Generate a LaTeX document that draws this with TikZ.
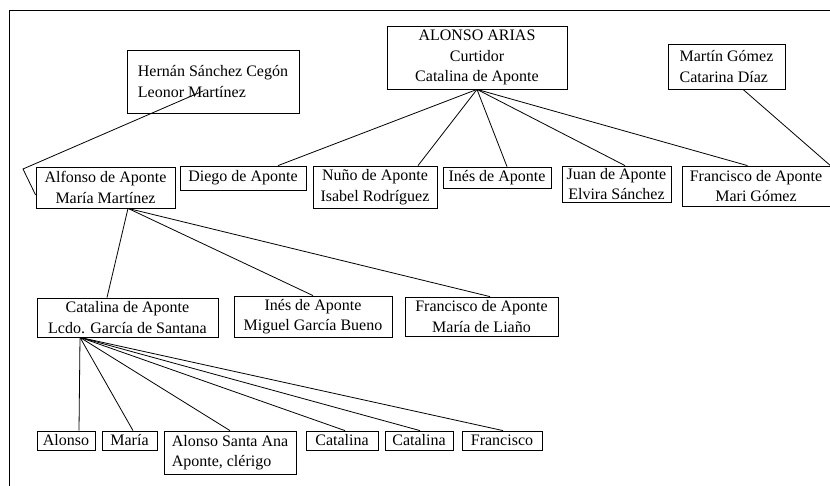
\documentclass[tikz,border=0pt]{standalone}
\usepackage{fontspec}
\setmainfont{Liberation Serif}
\begin{document}
\begin{tikzpicture}[x=1pt,y=1pt,
  box/.style={draw, line width=0.8pt, inner sep=0pt, align=center,
    font=\fontsize{16}{20.5}\selectfont},
  link/.style={line width=0.8pt}]
\useasboundingbox (0,0) rectangle (830,-486);
\clip (0,0) rectangle (830,-486);
\draw[link] (9,-10) rectangle (860,-520);
% top generation
\node[box, align=left, minimum width=172pt, minimum height=63pt] (hernan) at (213,-81.5) {Hernán Sánchez Cegón\\Leonor Martínez};
\node[box, minimum width=180pt, minimum height=63pt] (alonso) at (477,-57.5) {ALONSO ARIAS\\Curtidor\\Catalina de Aponte};
\node[box, align=left, minimum width=117pt, minimum height=45pt] (martin) at (726.5,-66.5) {Martín Gómez\\Catarina Díaz};
% second generation
\node[box, minimum width=139pt, minimum height=41pt] (alfonso) at (105.5,-187.5) {Alfonso de Aponte\\María Martínez};
\node[box, minimum width=126pt, minimum height=24pt] (diego) at (243,-178) {Diego de Aponte};
\node[box, minimum width=124pt, minimum height=42pt] (nuno) at (375,-187) {Nuño de Aponte\\Isabel Rodríguez};
\node[box, minimum width=108pt, minimum height=21pt] (ines) at (497,-177.5) {Inés de Aponte};
\node[box, minimum width=109pt, minimum height=36pt] (juan) at (616.5,-184) {Juan de Aponte\\Elvira Sánchez};
\node[box, minimum width=148pt, minimum height=40pt] (franc) at (756,-186) {Francisco de Aponte\\Mari Gómez};
% third generation
\node[box, minimum width=181pt, minimum height=39pt] (catalina) at (127.5,-317.5) {Catalina de Aponte\\Lcdo. García de Santana};
\node[box, minimum width=158pt, minimum height=41pt] (inesb) at (313,-316.5) {Inés de Aponte\\Miguel García Bueno};
\node[box, minimum width=153pt, minimum height=39pt] (francb) at (481.5,-316.5) {Francisco de Aponte\\María de Liaño};
% fourth generation
\node[box, minimum width=58pt, minimum height=19pt] (alonsoc) at (66,-440.5) {Alonso};
\node[box, minimum width=55pt, minimum height=19pt] (maria) at (129.5,-440.5) {María};
\node[box, align=left, minimum width=132pt, minimum height=43pt] (santaana) at (230,-452.5) {Alonso Santa Ana\\Aponte, clérigo};
\node[box, minimum width=72pt, minimum height=19pt] (catc) at (342,-440.5) {Catalina};
\node[box, minimum width=68pt, minimum height=19pt] (catd) at (419,-440.5) {Catalina};
\node[box, minimum width=80pt, minimum height=19pt] (francc) at (502,-440.5) {Francisco};
% connectors
\coordinate (elbow) at (23,-169);
\draw[link] ([xshift=-10pt,yshift=-9.5pt]hernan.center) -- (elbow) -- ([yshift=-7.5pt]alfonso.west);
\draw[link] ([xshift=16.5pt]martin.south) -- (franc.north east);
\draw[link] (alonso.south) -- ([xshift=35pt]diego.north);
\draw[link] (alonso.south) -- ([xshift=43pt]nuno.north);
\draw[link] (alonso.south) -- ([xshift=10pt]ines.north);
\draw[link] (alonso.south) -- ([xshift=8.5pt]juan.north);
\draw[link] (alonso.south) -- ([xshift=-8.5pt]franc.north);
\draw[link] ([xshift=22.5pt]alfonso.south) -- ([xshift=-20.5pt]catalina.north);
\draw[link] ([xshift=22.5pt]alfonso.south) -- (inesb.north);
\draw[link] ([xshift=22.5pt]alfonso.south) -- ([xshift=8.5pt]francb.north);
\draw[link] ([xshift=-47.5pt]catalina.south) -- ([xshift=13pt]alonsoc.north);
\draw[link] ([xshift=-47.5pt]catalina.south) -- ([xshift=3.5pt]maria.north);
\draw[link] ([xshift=-47.5pt]catalina.south) -- (santaana.north);
\draw[link] ([xshift=-47.5pt]catalina.south) -- ([xshift=3pt]catc.north);
\draw[link] ([xshift=-47.5pt]catalina.south) -- ([xshift=1pt]catd.north);
\draw[link] ([xshift=-47.5pt]catalina.south) -- ([xshift=1pt]francc.north);
\end{tikzpicture}
\end{document}
